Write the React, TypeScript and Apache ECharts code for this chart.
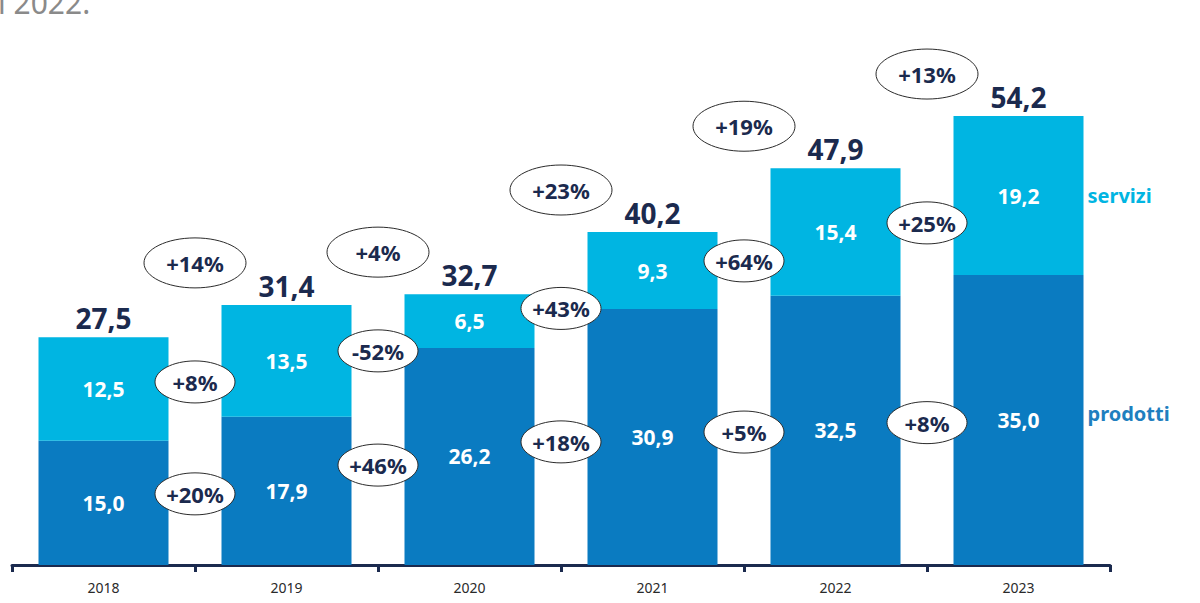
import React, { useEffect, useRef } from "react";
import * as echarts from "echarts";

const years = ["2018", "2019", "2020", "2021", "2022", "2023"];
const prodotti = [15.0, 17.9, 26.2, 30.9, 32.5, 35.0];
const servizi = [12.5, 13.5, 6.5, 9.3, 15.4, 19.2];
const totali = [27.5, 31.4, 32.7, 40.2, 47.9, 54.2];
const growthTotale = ["+14%", "+4%", "+23%", "+19%", "+13%"];
const growthServizi = ["+8%", "-52%", "+43%", "+64%", "+25%"];
const growthProdotti = ["+20%", "+46%", "+18%", "+5%", "+8%"];
const seriesNames = ["prodotti", "servizi"];

const NAVY = "#1b2a4e";
const C_PROD = "#0a7bc1";
const C_SERV = "#00b5e2";
const FONT = '"Noto Sans", sans-serif';

const fmt = (v: number) => v.toFixed(1).replace(".", ",");

function ellipseLabel(cx: number, cy: number, rx: number, ry: number, text: string) {
  return {
    type: "group",
    children: [
      {
        type: "ellipse",
        shape: { cx, cy, rx, ry },
        style: { fill: "#ffffff", stroke: "#2b2b2b", lineWidth: 1 },
      },
      {
        type: "text",
        x: cx,
        y: cy,
        style: {
          text,
          fill: NAVY,
          font: `bold 22px ${FONT}`,
          align: "center",
          verticalAlign: "middle",
        },
      },
    ],
  };
}

export default function App() {
  const ref = useRef<HTMLDivElement>(null);
  useEffect(() => {
    const chart = echarts.init(ref.current!, null, { renderer: "svg" });
    const option: any = {
      animation: false,
      backgroundColor: "#ffffff",
      grid: { left: 12, right: 90, top: 68, bottom: 38 },
      graphic: [
        {
          type: "text",
          left: -2,
          top: -13,
          style: { text: "i 2022.", fill: "#8a8a8a", font: `30px ${FONT}` },
        },
      ],
      xAxis: {
        type: "category",
        data: years,
        axisLine: { lineStyle: { color: NAVY, width: 3 } },
        axisTick: { show: true, length: 7, lineStyle: { color: NAVY, width: 3 } },
        axisLabel: { color: "#2a2a2a", fontSize: 14, margin: 15, fontFamily: FONT },
      },
      yAxis: { type: "value", min: 0, max: 60, show: false, splitLine: { show: false } },
      series: [
        {
          name: seriesNames[0],
          type: "bar",
          stack: "tot",
          barWidth: 130,
          z: 2,
          data: prodotti,
          itemStyle: { color: C_PROD },
          label: {
            show: true,
            position: "inside",
            color: "#fff",
            fontSize: 21,
            fontWeight: "bold",
            fontFamily: FONT,
            formatter: (p: any) => fmt(p.value),
          },
        },
        {
          name: seriesNames[1],
          type: "bar",
          stack: "tot",
          barWidth: 130,
          z: 2,
          data: servizi,
          itemStyle: { color: C_SERV },
          label: {
            show: true,
            position: "inside",
            color: "#fff",
            fontSize: 21,
            fontWeight: "bold",
            fontFamily: FONT,
            formatter: (p: any) => fmt(p.value),
          },
        },
        {
          type: "custom",
          name: "totali",
          clip: false,
          z: 10,
          data: totali.map((t, i) => [i, t]),
          renderItem: (params: any, api: any) => {
            const i = params.dataIndex;
            const p = api.coord([i, totali[i]]);
            return {
              type: "text",
              x: p[0],
              y: p[1] - 5,
              style: {
                text: fmt(totali[i]),
                fill: NAVY,
                font: `bold 28px ${FONT}`,
                align: "center",
                verticalAlign: "bottom",
              },
            };
          },
        },
        {
          type: "custom",
          name: "crescita totale",
          clip: false,
          z: 10,
          data: growthTotale.map((g, i) => [i, Math.max(totali[i], totali[i + 1])]),
          renderItem: (params: any, api: any) => {
            const i = params.dataIndex;
            const v = Math.max(totali[i], totali[i + 1]);
            const a = api.coord([i, v]);
            const b = api.coord([i + 1, v]);
            return ellipseLabel((a[0] + b[0]) / 2, a[1] - 42, 51, 25, growthTotale[i]);
          },
        },
        {
          type: "custom",
          name: "crescita servizi",
          clip: false,
          z: 10,
          data: growthServizi.map((g, i) => [i, prodotti[i] + servizi[i] / 2]),
          renderItem: (params: any, api: any) => {
            const i = params.dataIndex;
            const a = api.coord([i, prodotti[i] + servizi[i] / 2]);
            const b = api.coord([i + 1, prodotti[i + 1] + servizi[i + 1] / 2]);
            return ellipseLabel((a[0] + b[0]) / 2, a[1] * 0.75 + b[1] * 0.25, 40, 21, growthServizi[i]);
          },
        },
        {
          type: "custom",
          name: "crescita prodotti",
          clip: false,
          z: 10,
          data: growthProdotti.map((g, i) => [i, prodotti[i] / 2]),
          renderItem: (params: any, api: any) => {
            const i = params.dataIndex;
            const a = api.coord([i, prodotti[i] / 2]);
            const b = api.coord([i + 1, prodotti[i + 1] / 2]);
            return ellipseLabel((a[0] + b[0]) / 2, a[1] * 0.25 + b[1] * 0.75, 40, 21, growthProdotti[i]);
          },
        },
        {
          type: "custom",
          name: "etichette",
          clip: false,
          z: 10,
          data: [[years.length - 1, 0]],
          renderItem: (params: any, api: any) => {
            const last = years.length - 1;
            const ps = api.coord([last, prodotti[last] + servizi[last] / 2]);
            const pp = api.coord([last, prodotti[last] / 2]);
            const half = 65;
            return {
              type: "group",
              children: [
                {
                  type: "text",
                  x: ps[0] + half + 4,
                  y: ps[1],
                  style: {
                    text: seriesNames[1],
                    fill: C_SERV,
                    font: `bold 20px ${FONT}`,
                    align: "left",
                    verticalAlign: "middle",
                  },
                },
                {
                  type: "text",
                  x: pp[0] + half + 4,
                  y: pp[1] - 7,
                  style: {
                    text: seriesNames[0],
                    fill: "#1f7fbf",
                    font: `bold 20px ${FONT}`,
                    align: "left",
                    verticalAlign: "middle",
                  },
                },
              ],
            };
          },
        },
      ],
    };
    chart.setOption(option);
    return () => chart.dispose();
  }, []);
  return (
    <div
      ref={ref}
      style={{ position: "fixed", left: 0, top: 0, width: 1200, height: 603 }}
    />
  );
}
